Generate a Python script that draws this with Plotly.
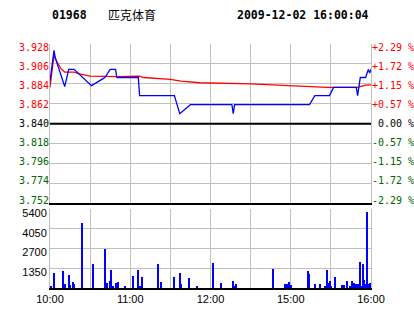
import plotly.graph_objects as go

# ---- data ----
stock_code = "01968"
stock_name = "匹克体育"
stamp = "2009-12-02 16:00:04"
prev_close = 3.840

# minutes since 10:00 (12:30 joins 14:30)
price_t = [0, 1, 2, 3, 4, 5, 11, 13, 14, 18, 31, 40, 41, 45, 49, 50, 66, 67, 93, 97,
           105, 136, 137, 138, 194, 198, 209, 212, 229, 230, 231, 232, 236, 237, 238, 239, 240]
price_v = [3.887, 3.900, 3.910, 3.921, 3.912, 3.908, 3.881, 3.895, 3.900, 3.900, 3.882,
           3.890, 3.891, 3.900, 3.900, 3.891, 3.891, 3.871, 3.871, 3.851,
           3.861, 3.861, 3.851, 3.861, 3.861, 3.871, 3.871, 3.880, 3.880, 3.871, 3.882,
           3.891, 3.891, 3.896, 3.900, 3.896, 3.900]

avg_t = [0, 3, 5, 8, 11, 18, 22, 30, 50, 67, 70, 90, 98, 112, 150, 172, 187, 207, 230, 236, 240]
avg_v = [3.880, 3.916, 3.909, 3.901, 3.897, 3.897, 3.895, 3.8925, 3.892, 3.8925, 3.891,
         3.889, 3.887, 3.8852, 3.884, 3.8826, 3.881, 3.880, 3.880, 3.8826, 3.8828]

vol_t = [1, 3, 10, 11, 14, 15, 17, 18, 24, 32, 41, 43, 45, 46, 47, 49, 50, 51, 56, 62,
         66, 67, 69, 81, 83, 93, 97, 98, 104, 110, 122, 128, 137, 138, 139, 167, 176, 177,
         179, 180, 193, 194, 198, 202, 206, 207, 208, 209, 210, 213, 218, 220, 222, 224,
         226, 227, 228, 229, 230, 231, 232, 233, 234, 235, 236, 237, 238, 239, 240]
vol_v = [140, 1050, 1180, 270, 910, 200, 410, 270, 4460, 1640, 2670, 320, 480, 1230, 140,
         320, 200, 410, 140, 820, 1230, 140, 730, 1640, 410, 730, 1030, 270, 680, 140,
         1710, 360, 480, 140, 270, 1300, 270, 270, 380, 200, 1180, 960, 270, 270, 140,
         1230, 320, 480, 140, 730, 200, 200, 480, 140, 480, 320, 200, 270, 270, 200, 1780,
         140, 1640, 570, 270, 5190, 270, 360, 200]

price_ticks = [3.752, 3.774, 3.796, 3.818, 3.840, 3.862, 3.884, 3.906, 3.928]
pct_ticks = ["-2.29 %", "-1.72 %", "-1.15 %", "-0.57 %", " 0.00 %", "+0.57 %", "+1.15 %", "+1.72 %", "+2.29 %"]
vol_ticks = [1350, 2700, 4050, 5400]
time_ticks = [0, 30, 60, 90, 120, 150, 180, 210, 240]
time_labels = ["10:00", "", "11:00", "", "12:00", "", "15:00", "", "16:00"]

RED = "#FF0000"
GREEN = "#006600"
GRID = "#C0C0C0"


def col(v):
    if v > prev_close + 1e-9:
        return RED
    if v < prev_close - 1e-9:
        return GREEN
    return "#000000"


left_text = [f'<span style="color:{col(v)}">{v:.3f}</span>' for v in price_ticks]
right_text = [f'<span style="color:{col(v)}">{s}</span>' for v, s in zip(price_ticks, pct_ticks)]

price_range = [price_ticks[0], price_ticks[-1]]
# label axes: slightly wider range so labels sit inside the grid band like the original
label_range = [3.74818, 3.93193]

fig = go.Figure()
fig.add_trace(go.Scatter(x=avg_t, y=avg_v, mode="lines", line=dict(color=RED, width=1.3),
                         xaxis="x", yaxis="y", hoverinfo="skip"))
fig.add_trace(go.Scatter(x=price_t, y=price_v, mode="lines", line=dict(color="#0000FF", width=1.3),
                         xaxis="x", yaxis="y", hoverinfo="skip"))
fig.add_trace(go.Bar(x=vol_t, y=vol_v, width=0.8, marker=dict(color="#0000FF", line=dict(width=0)),
                     xaxis="x2", yaxis="y2", hoverinfo="skip"))
for ax in ("y3", "y4"):
    fig.add_trace(go.Scatter(x=[0], y=[prev_close], mode="markers", marker=dict(opacity=0),
                             xaxis="x", yaxis=ax, hoverinfo="skip"))

mono = dict(family="DejaVu Sans Mono", size=10, color="#000000")
sans = dict(family="Liberation Sans, Arial", size=11, color="#000000")

fig.update_layout(
    width=414, height=314,
    margin=dict(l=50, r=43, t=44, b=26, autoexpand=False),
    paper_bgcolor="white", plot_bgcolor="white",
    showlegend=False, bargap=0,
    xaxis=dict(domain=[0, 1], anchor="y", range=[0, 240], tickvals=time_ticks,
               showticklabels=False, showgrid=True, gridcolor=GRID, gridwidth=1,
               zeroline=False, showline=True, linecolor="#000000", linewidth=2, ticks="",
               automargin=False),
    yaxis=dict(domain=[0.347, 1], anchor="x", range=price_range, tickvals=price_ticks,
               showticklabels=False, showgrid=True, gridcolor=GRID, gridwidth=1,
               zeroline=False, showline=True, linecolor=GRID, linewidth=1, mirror=True, ticks="",
               automargin=False),
    yaxis3=dict(overlaying="y", side="left", anchor="x", range=label_range, tickvals=price_ticks,
                ticktext=left_text, tickfont=mono, showgrid=False, zeroline=False,
                showline=False, ticks="", automargin=False),
    yaxis4=dict(overlaying="y", side="right", anchor="x", range=label_range, tickvals=price_ticks,
                ticktext=right_text, tickfont=mono, showgrid=False, zeroline=False,
                showline=False, ticks="", ticklabelstandoff=0, automargin=False),
    xaxis2=dict(domain=[0, 1], anchor="y2", range=[0, 240], tickvals=time_ticks,
                ticktext=time_labels, tickfont=sans, showgrid=True, gridcolor=GRID, gridwidth=1,
                zeroline=False, showline=True, linecolor="#000000", linewidth=2, ticks="",
                automargin=False),
    yaxis2=dict(domain=[0, 0.324], anchor="x2", range=[0, 5400], tickvals=vol_ticks,
                tickfont=sans, showgrid=True, gridcolor=GRID, gridwidth=1, zeroline=False,
                showline=True, linecolor=GRID, linewidth=1, mirror=True, ticks="",
                ticklabelshift=4, automargin=False),
)

fig.add_shape(type="line", xref="x domain", yref="y", x0=0, x1=1, y0=prev_close, y1=prev_close,
              line=dict(color="#000000", width=2))

title_font = dict(family="DejaVu Sans Mono", size=11.5, color="#000000")
fig.add_annotation(xref="paper", yref="paper", x=0.0, y=1.119, xanchor="left", yanchor="middle",
                   text=f"<b>{stock_code}</b>", showarrow=False, font=title_font)
fig.add_annotation(xref="paper", yref="paper", x=0.174, y=1.119, xanchor="left", yanchor="middle",
                   text=stock_name, showarrow=False,
                   font=dict(family="Noto Sans CJK SC", size=12, color="#000000"))
fig.add_annotation(xref="paper", yref="paper", x=1.0, y=1.119, xanchor="right", yanchor="middle",
                   text=f"<b>{stamp}</b>", showarrow=False, font=title_font)

fig.write_html("out.html")
